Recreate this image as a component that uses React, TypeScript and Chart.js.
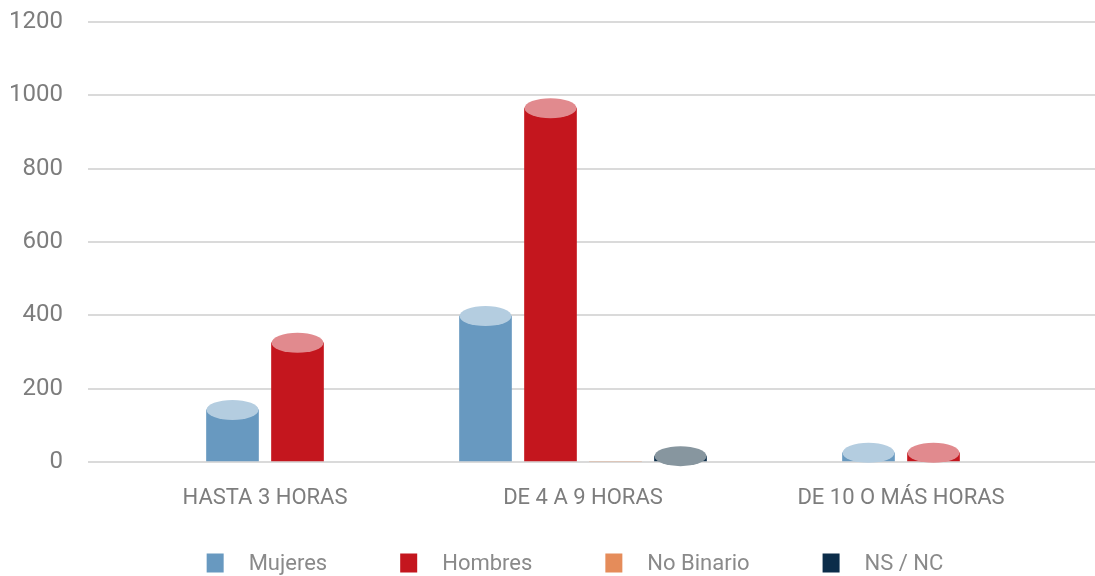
import React, { useEffect, useRef } from 'react';
import { Chart, registerables } from 'chart.js';

Chart.register(...registerables);

// ---- data ----
const categories = ['HASTA 3 HORAS', 'DE 4 A 9 HORAS', 'DE 10 O MÁS HORAS'];
const seriesNames = ['Mujeres', 'Hombres', 'No Binario', 'NS / NC'];
const mujeres = [142, 398, 25];
const hombres = [325, 965, 25];
const noBinario: (number | null)[] = [null, 0, null];
const nsnc: (number | null)[] = [null, 16, null];
const yMin = 0;
const yMax = 1200;
const yStep = 200;

// ---- styles ----
const bodyColors = ['#6899c0', '#c4161e', '#e58c5a', '#0c2d4a'];
const capColors = ['#b4cde0', '#e18a8e', '#f2c5ac', '#87969f'];
const gridColor = '#dadada';
const tickColor = '#7d7d7d';
const legendColor = '#8a8a8a';
const FONT = 'Roboto, "Noto Sans", sans-serif';

const cylinderCaps = {
  id: 'cylinderCaps',
  afterDatasetsDraw(chart: any) {
    const ctx = chart.ctx;
    ctx.save();
    chart.data.datasets.forEach((ds: any, i: number) => {
      const meta = chart.getDatasetMeta(i);
      meta.data.forEach((el: any, j: number) => {
        const v = ds.data[j];
        if (v === null || v === undefined || v === 0) return;
        const { x, y, width } = el.getProps(['x', 'y', 'width'], true);
        ctx.beginPath();
        ctx.ellipse(x, y, width / 2, 10, 0, 0, Math.PI * 2);
        ctx.fillStyle = capColors[i];
        ctx.fill();
      });
    });
    ctx.restore();
  },
};

const customLegend = {
  id: 'customLegend',
  afterDraw(chart: any) {
    const ctx = chart.ctx;
    ctx.save();
    ctx.font = `22px ${FONT}`;
    const box = 17;
    const gap = 25;
    const spacing = 73;
    const widths = seriesNames.map((n) => ctx.measureText(n).width);
    const total = widths.reduce((a, w) => a + box + gap + w, 0) + spacing * (seriesNames.length - 1);
    const centerX = 575;
    const cy = 563;
    let x = centerX - total / 2;
    ctx.textBaseline = 'middle';
    ctx.textAlign = 'left';
    seriesNames.forEach((n, i) => {
      ctx.fillStyle = bodyColors[i];
      ctx.fillRect(x, cy - 9.5, box, 19);
      x += box + gap;
      ctx.fillStyle = legendColor;
      ctx.fillText(n, x, cy + 1);
      x += widths[i] + spacing;
    });
    ctx.restore();
  },
};

export default function App() {
  const ref = useRef<HTMLCanvasElement | null>(null);

  useEffect(() => {
    if (!ref.current) return;
    const seriesData = [mujeres, hombres, noBinario, nsnc];
    const chart = new Chart(ref.current, {
      type: 'bar',
      data: {
        labels: categories,
        datasets: seriesNames.map((name, i) => ({
          label: name,
          data: seriesData[i],
          backgroundColor: bodyColors[i],
          borderWidth: 0,
          skipNull: true,
          barThickness: 65,
          maxBarThickness: 52,
          yAxisID: 'y',
        })) as any,
      },
      options: {
        animation: false,
        responsive: true,
        maintainAspectRatio: false,
        layout: { padding: { top: 22, left: 0, right: 0, bottom: 0 } },
        plugins: {
          legend: { display: false },
          tooltip: { enabled: false },
        },
        scales: {
          x: {
            offset: true,
            grid: { display: false, drawTicks: false },
            border: { display: false },
            ticks: {
              color: tickColor,
              font: { family: FONT, size: 22 },
              padding: 23,
              maxRotation: 0,
            },
            afterFit: (scale: any) => {
              scale.height = 114;
              scale.paddingLeft = 0;
              scale.paddingRight = 0;
            },
          },
          y: {
            position: 'left',
            min: yMin,
            max: yMax,
            grid: { color: gridColor, lineWidth: 2, drawTicks: true, tickLength: 18 },
            border: { display: false },
            ticks: {
              stepSize: yStep,
              color: tickColor,
              font: { family: FONT, size: 24 },
              padding: 25,
              callback: (v: any) => String(v),
            },
            afterFit: (scale: any) => {
              scale.width = 106;
              scale.paddingTop = 0;
              scale.paddingBottom = 0;
            },
          },
          y2: {
            position: 'right',
            min: yMin,
            max: yMax,
            grid: {
              color: gridColor,
              lineWidth: 2,
              drawOnChartArea: false,
              drawTicks: true,
              tickLength: 35,
            },
            border: { display: false },
            ticks: { stepSize: yStep, display: false },
            afterFit: (scale: any) => {
              scale.width = 35;
              scale.paddingTop = 0;
              scale.paddingBottom = 0;
            },
          },
        },
      } as any,
      plugins: [cylinderCaps, customLegend],
    });
    return () => chart.destroy();
  }, []);

  return (
    <div style={{ position: 'fixed', left: 0, top: 0, width: 1095, height: 576, background: '#fff' }}>
      <canvas ref={ref} />
    </div>
  );
}
